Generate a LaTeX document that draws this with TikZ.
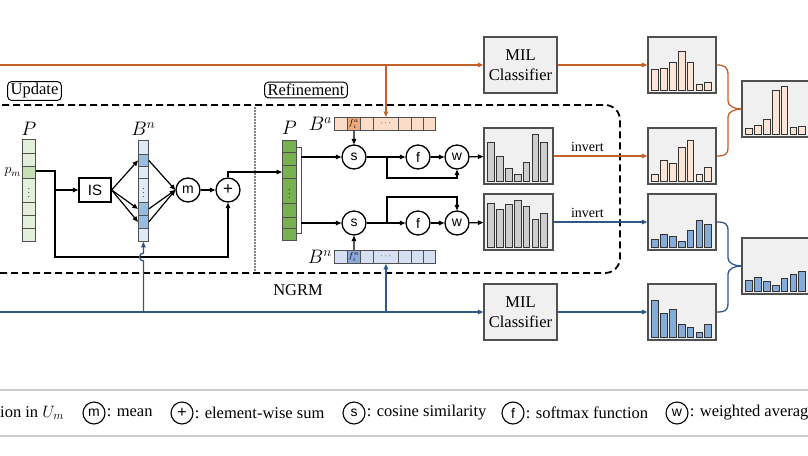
\RequirePackage{fix-cm}
\documentclass[tikz,border=0pt]{standalone}
\usepackage{fontspec}
\setmainfont{Liberation Serif}
\newfontfamily\sansf{Liberation Sans}
\usetikzlibrary{arrows.meta,calc}

\definecolor{orng}{RGB}{197,96,40}
\definecolor{blu}{RGB}{46,88,135}
\definecolor{boxg}{RGB}{240,240,240}
\definecolor{edge}{RGB}{80,80,80}
\definecolor{barO}{RGB}{252,228,214}
\definecolor{barB}{RGB}{133,172,216}
\definecolor{barG}{RGB}{206,206,206}
\definecolor{gA}{RGB}{226,239,217}
\definecolor{gB}{RGB}{197,224,180}
\definecolor{gC}{RGB}{118,178,80}
\definecolor{bA}{RGB}{222,234,246}
\definecolor{bB}{RGB}{150,188,226}
\definecolor{bC}{RGB}{214,224,242}
\definecolor{bD}{RGB}{140,170,220}
\definecolor{oA}{RGB}{250,220,200}
\definecolor{oB}{RGB}{240,170,125}
\definecolor{legl}{RGB}{205,205,205}

\newcommand{\txt}{\fontsize{16.5}{20}\selectfont}
\newcommand{\mtxt}{\fontsize{19.5}{19.5}\selectfont}

% bars of a histogram node: #1 node, #2 fill, #3 heights
\newcommand{\drawbars}[3]{%
  \foreach \h [count=\i] in {#3}
    \draw[draw=black!80,line width=0.9pt,fill=#2]
      ([shift={({4.3+(\i-1)*8.85},-3)}]#1.south west) rectangle ++(6.7,-\h);}

\tikzset{
  >={Triangle[length=5.5pt,width=4.5pt]},
  conn/.style={line width=1.2pt,->},
  opnode/.style={circle,draw,line width=1.3pt,minimum size=24,inner sep=0,
    font=\sansf\fontsize{14}{14}\selectfont},
  legop/.style={opnode,minimum size=22,line width=1.1pt},
  milbox/.style={draw=edge,fill=boxg,line width=1.2pt,minimum width=73,
    minimum height=56,align=center,font=\txt},
  histbox/.style={draw=edge,fill=boxg,line width=1.2pt,minimum width=68,
    minimum height=56,inner sep=0},
  slot/.style={draw=edge,line width=0.8pt,inner sep=0,anchor=north west,
    font=\fontsize{8.5}{8.5}\selectfont},
  tagbox/.style={draw,rounded corners=4,line width=1pt,font=\txt,inner xsep=3,inner ysep=2},
  ngrm/.style={draw,line width=1.8pt,dash pattern=on 7pt off 4pt,rounded corners=15},
  oline/.style={draw=orng,line width=1.3pt},
  bline/.style={draw=blu,line width=1.3pt}
}

\begin{document}
\begin{tikzpicture}[x=1pt,y=-1pt]
\useasboundingbox (0,0) rectangle (808,455);
\fill[white] (0,0) rectangle (808,455);
\clip (0,0) rectangle (808,455);

% NGRM frame
\draw[ngrm] (-20,105) -- (620,105) -- (620,273) -- (-20,273);
\draw[gray,line width=1.5pt,dash pattern=on 1.5pt off 1.5pt] (255,107) -- (255,271);
\node[font=\txt] (ngrmlab) at (298,290) {NGRM};
\node[tagbox] (upd) at (34.5,91) {Update};
\node[tagbox] (ref) at (306,90) {Refinement};

% Update
\foreach \t/\b/\c/\s [count=\i] in {139.3/152.7/gA/{},152.7/166/gA/{},166/177.7/gB/{},
    177.7/201.7/gA/{$\vdots$},201.7/215/gA/{},215/228.3/gA/{},228.3/240.7/gA/{}}
  \node[slot,fill=\c,minimum width=13,minimum height={\b-\t}] (pu-\i) at (22,\t) {\s};
\node[font=\mtxt] at ($(pu-1.north)+(0,-10)$) {$P$};
\node[font=\fontsize{14}{14}\selectfont,anchor=east,inner sep=1] at (pu-3.west) {$p_m$};

\node[draw,line width=1.3pt,minimum width=32,minimum height=24,inner sep=0,
  font=\sansf\fontsize{15}{15}\selectfont] (is) at (95,190) {IS};

\foreach \t/\b/\c/\s [count=\i] in {140/154/bA/{},154/166/bB/{},166/178/bA/{},
    178/202/bA/{$\vdots$},202/215/bB/{},215/228/bB/{},228/241/bA/{}}
  \node[slot,fill=\c,minimum width=10,minimum height={\b-\t}] (bu-\i) at (138,\t) {\s};
\node[font=\mtxt] at ($(bu-1.north)+(0,-11)$) {$B^n$};

\node[opnode] (mn) at (188,190) {m};
\node[opnode,font=\sansf\fontsize{17}{17}\selectfont] (plus) at (228,190) {+};

\coordinate (j1) at (55,171);
\coordinate (j3) at (55,257);
\draw[conn] (pu-3.east |- j1) -- (j1) -- (j3) -| (plus.south);
\draw[conn] (is.west -| j1) -- (is.west);
\foreach \k in {2,5,6} \draw[conn] (is.east) -- (bu-\k.west);
\foreach \k in {2,5,6} \draw[conn] (bu-\k.east) -- (mn.west);
\draw[conn] (mn) -- (plus);

% Refinement
\draw[draw=edge,line width=0.8pt,fill=white] (287,147) rectangle (301,233);
\foreach \t/\b/\s [count=\i] in {140/151.7/{},151.7/165/{},165/178.3/{},178.3/203.3/{$\vdots$},
    203.3/216.7/{},216.7/228.3/{},228.3/240/{}}
  \node[slot,fill=gC,minimum width=14,minimum height={\b-\t}] (pr-\i) at (282,\t) {\s};
\node[font=\mtxt] at ($(pr-1.north)+(0,-12)$) {$P$};
\draw[conn] (plus.north) |- (pr-3.west);

\foreach \l/\r/\ca/\cb/\sa/\sb [count=\i] in {334/347/oA/bC/{}/{},347/360/oB/bD/{$f^a_i$}/{$f^n_i$},
    360/373/oA/bC/{}/{},373/398/oA/bC/{$\cdots$}/{$\cdots$},398/410.5/oA/bC/{}/{},
    410.5/422.8/oA/bC/{}/{},422.8/435/oA/bC/{}/{}}{
  \node[slot,fill=\ca,minimum width={\r-\l},minimum height=13] (ba-\i) at (\l,117) {\sa};
  \node[slot,fill=\cb,minimum width={\r-\l},minimum height=13] (bn-\i) at (\l,250) {\sb};
}
\node[font=\mtxt,anchor=east,inner sep=2] at (ba-1.west) {$B^a$};
\node[font=\mtxt,anchor=east,inner sep=2] at (bn-1.west) {$B^n$};

\coordinate (r1) at (301,157);
\coordinate (r2) at (301,223);
\node[opnode] (s1) at (354,157) {s};
\node[opnode] (s2) at (354,223) {s};
\node[opnode] (f1) at (418,157) {f};
\node[opnode] (f2) at (418,223) {f};
\node[opnode] (w1) at (457,157) {w};
\node[opnode] (w2) at (457,223) {w};
\draw[conn] (r1) -- (s1);
\draw[conn] (r2) -- (s2);
\draw[conn] (ba-2.south) -- (s1.north);
\draw[conn] (bn-2.north) -- (s2.south);
\draw[conn] (s1) -- (f1);
\draw[conn] (f1) -- (w1);
\draw[conn] (s2) -- (f2);
\draw[conn] (f2) -- (w2);
\draw[conn] (387,157) -- (387,178) -| (w1.south);
\draw[conn] (387,223) -- (387,197) -| (w2.north);

\node[histbox,minimum width=69] (g1) at (518.5,156) {};
\node[histbox,minimum width=69] (g2) at (518.5,222) {};
\drawbars{g1}{barG}{39.3,25,13.3,6.7,19.3,46.7,38.7}
\drawbars{g2}{barG}{44.4,38.4,42.7,46.7,40.7,28.4,34.4}
\draw[conn] (w1) -- (g1);
\draw[conn] (w2) -- (g2);

% classifiers and outputs
\node[milbox] (mil1) at (520.5,65) {MIL\\Classifier};
\node[milbox] (mil2) at (520.5,312) {MIL\\Classifier};
\node[histbox] (o1) at (682,65) {};
\node[histbox] (o2) at (682,156) {};
\node[histbox] (b1) at (682,222) {};
\node[histbox] (b2) at (682,312) {};
\node[histbox] (oc) at (776,109) {};
\node[histbox] (bc) at (776,266) {};
\drawbars{o1}{barO}{20.7,22.3,27.7,39,27.7,5.7,7.7}
\drawbars{o2}{barO}{6.7,21,17.7,34.3,41,6.7,14.3}
\drawbars{b1}{barB}{8.3,13.3,10.7,6,17.3,26.7,22.7}
\drawbars{b2}{barB}{37,24.3,27.7,13.3,10.3,5.3,13.3}
\drawbars{oc}{barO}{5.7,9,15,44,48.3,6.7,8}
\drawbars{bc}{barB}{11,14.3,10.3,6,12.7,17,20.3}

\coordinate (oin) at (-2,65);
\coordinate (bin) at (-2,312);
\draw[oline,->] (oin) -- (mil1);
\draw[oline,->] (ba-4.north |- oin) -- (ba-4.north);
\draw[oline,->] (mil1) -- (o1);
\draw[oline,->] (g1) -- node[pos=0.36,above,font=\fontsize{14}{14}\selectfont,text=black] {invert} (o2);
\draw[bline,->] (g2) -- node[pos=0.36,above,font=\fontsize{14}{14}\selectfont,text=black] {invert} (b1);
\draw[bline,->] (bin) -- (mil2);
\draw[bline,->] (mil2) -- (b2);
\draw[bline,->] (bu-7.south |- bin) -- ($(bu-7.south |- j3)+(0,4)$)
  .. controls +(-5,0) and +(-5,0) .. ($(bu-7.south |- j3)+(0,-4)$) -- (bu-7.south);
\draw[bline,->] (bn-4.south |- bin) -- (bn-4.south);

% braces
\draw[oline] (o1.east) .. controls +(8,0) and +(0,-8) .. (728,75) -- (728,101)
  .. controls +(0,5) and +(-7,0) .. (oc.west);
\draw[oline] (o2.east) .. controls +(8,0) and +(0,8) .. (728,147) -- (728,117)
  .. controls +(0,-5) and +(-7,0) .. (oc.west);
\draw[bline] (b1.east) .. controls +(8,0) and +(0,-8) .. (728,231) -- (728,258)
  .. controls +(0,5) and +(-7,0) .. (bc.west);
\draw[bline] (b2.east) .. controls +(8,0) and +(0,8) .. (728,303) -- (728,274)
  .. controls +(0,-5) and +(-7,0) .. (bc.west);

% legend
\draw[legl,line width=2.5pt] (0,390) -- (808,390);
\draw[legl,line width=2.5pt] (0,436) -- (808,436);
\node[anchor=west,font=\txt,inner sep=0] at (0,413) {ion in $U_m$};
\node[legop] (lm) at (94,413) {m};
\node[anchor=west,font=\txt,inner sep=1] at (lm.east) {: mean};
\node[legop,font=\sansf\fontsize{16}{16}\selectfont] (lp) at (182,413) {+};
\node[anchor=west,font=\txt,inner sep=1] at (lp.east) {: element-wise sum};
\node[legop] (ls) at (354,413) {s};
\node[anchor=west,font=\txt,inner sep=1] at (ls.east) {: cosine similarity};
\node[legop] (lf) at (513,413) {f};
\node[anchor=west,font=\txt,inner sep=1] at (lf.east) {: softmax function};
\node[legop] (lw) at (677,413) {w};
\node[anchor=west,font=\txt,inner sep=1] at (lw.east) {: weighted averag};
\end{tikzpicture}
\end{document}
